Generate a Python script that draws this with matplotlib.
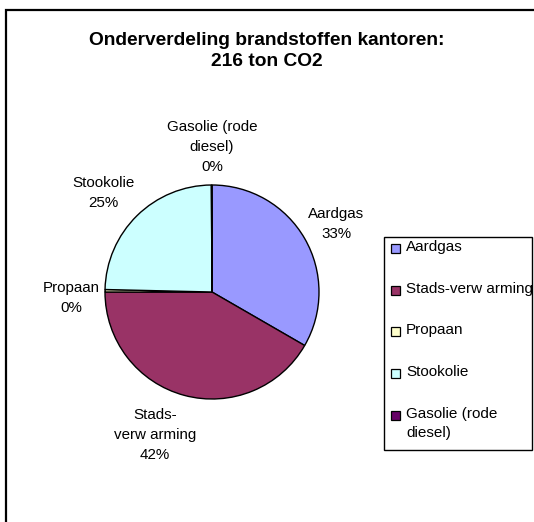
import matplotlib
matplotlib.use("Agg")
import matplotlib.pyplot as plt
from matplotlib.patches import Rectangle

plt.rcParams["font.family"] = ["Liberation Sans", "DejaVu Sans"]

# data: ton CO2 per brandstof (totaal 216)
categories = ["Aardgas", "Stads-verw arming", "Propaan", "Stookolie", "Gasolie (rode diesel)"]
values = [72.0, 90.0, 0.8, 53.0, 0.2]
pct_labels = ["33%", "42%", "0%", "25%", "0%"]
slice_labels = ["Aardgas", "Stads-\nverw arming", "Propaan", "Stookolie", "Gasolie (rode\ndiesel)"]
legend_labels = ["Aardgas", "Stads-verw arming", "Propaan", "Stookolie", "Gasolie (rode\ndiesel)"]
colors = ["#9999FF", "#993366", "#FFFFCC", "#CCFFFF", "#660066"]

W, H = 534, 522
fig = plt.figure(figsize=(W / 100, H / 100), dpi=100)


def px(x, y):
    # pixel coords (from top-left) -> figure fraction
    return x / W, 1 - y / H


# outer chart frame (runs off the right/bottom edge like the original)
fig.patches.append(Rectangle(px(6, 700), 700 / W, 690 / H, transform=fig.transFigure,
                             fill=False, edgecolor="black", linewidth=1.6))

fig.text(*px(267, 51), "Onderverdeling brandstoffen kantoren:\n216 ton CO2",
         ha="center", va="center", fontsize=13.8, fontweight="bold", linespacing=1.38)

# pie
cx, cy, r = 212, 292, 107
ax = fig.add_axes([(cx - r) / W, 1 - (cy + r) / H, 2 * r / W, 2 * r / H])
ax.pie(values, colors=colors, startangle=90, counterclock=False,
       wedgeprops=dict(edgecolor="black", linewidth=1.0))
ax.set_xlim(-1, 1)
ax.set_ylim(-1, 1)
ax.axis("off")

# label positions, pixel centres
label_pos = [(336, 224), (155, 435), (71, 298), (103, 193), (212, 147)]
for lab, pct, (lx, ly) in zip(slice_labels, pct_labels, label_pos):
    fig.text(*px(lx, ly), lab + "\n" + pct, ha="center", va="center",
             fontsize=10.9, linespacing=1.55)

# legend box
fig.patches.append(Rectangle(px(384, 450), 148 / W, 213 / H, transform=fig.transFigure,
                             facecolor="white", edgecolor="black", linewidth=1.0))
entry_y = [249, 291, 332, 374, 416]
for lab, col, ey in zip(legend_labels, colors, entry_y):
    fig.patches.append(Rectangle(px(391, ey + 4), 9 / W, 9 / H, transform=fig.transFigure,
                                 facecolor=col, edgecolor="black", linewidth=0.9))
    fig.text(*px(406, ey - 9), lab, ha="left", va="top", fontsize=11, linespacing=1.45)

fig.savefig("out.png", dpi=100)
